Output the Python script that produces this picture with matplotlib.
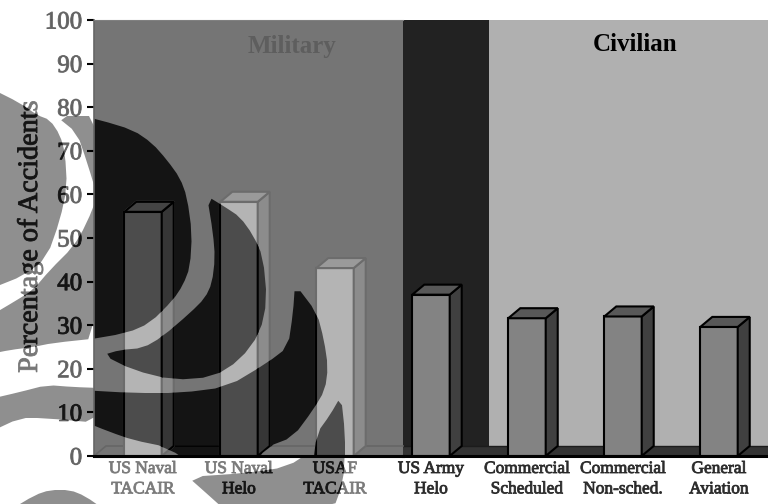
import matplotlib
matplotlib.use("Agg")
import matplotlib.pyplot as plt
from matplotlib.path import Path
from matplotlib.patches import PathPatch
from matplotlib.patheffects import AbstractPathEffect
from matplotlib.transforms import Affine2D, TransformedPath

# ---- data ----
categories = ["US Naval\nTACAIR", "US Naval\nHelo", "USAF\nTACAIR", "US Army\nHelo",
              "Commercial\nScheduled", "Commercial\nNon-sched.", "General\nAviation"]
values = [56, 58.3, 43.1, 37, 31.6, 32, 29.6]
yticks = [0, 10, 20, 30, 40, 50, 60, 70, 80, 90, 100]
tick_colors = ["#666666", "#111111", "#666666", "#111111", "#111111", "#222222",
               "#111111", "#111111", "#222222", "#666666", "#666666"]

# ---- style ----
W, H = 768, 504
plt.rcParams["font.family"] = "Liberation Serif"
BAR_W, DX, DY = 0.39, 0.125, 2.3
MIL_END, DARK_END = 2.708, 3.604
XMIN, XMAX = -0.5104, 6.5104

MIL = dict(bg="#757575", front="#b4b4b4", side="#8c8c8c", top="#9a9a9a", edge="#6c6c6c",
           floor="#757575", fline="#666666", base="#555555")
INV = dict(bg="#141414", front="#4c4c4c", side="#363636", top="#444444", edge="#000000",
           floor="#141414", fline="#000000", base="#000000")
CIV = dict(front="#838383", side="#404040", top="#585858", edge="#000000",
           floor="#333333", fline="#1c1c1c", base="#000000")
DARK_BG, LIGHT_BG = "#222222", "#b0b0b0"
GRAY = "#8f8f8f"

# swirl overlay outlines in image pixels
blob_shapes = [
    [(80, 116), (100, 120), (133, 130), (152, 143), (167, 160), (180, 178), (187, 197), (192, 233),
     (190, 267), (183, 285), (173, 300), (150, 323), (127, 333), (80, 341)],
    [(207, 196), (225, 207), (240, 217), (253, 235), (263, 257), (267, 300), (260, 333), (240, 360),
     (213, 377), (173, 380), (133, 370), (103, 355), (120, 350), (143, 348), (162, 337),
     (190, 313), (205, 298), (212, 283), (215, 258), (213, 233)],
    [(295, 284), (317, 313), (324, 340), (328, 367), (325, 390), (313, 410), (293, 437), (267, 447),
     (250, 470), (200, 470), (167, 447), (133, 440), (110, 432), (80, 420), (80, 390), (133, 393),
     (180, 393), (227, 387), (267, 363), (288, 347), (293, 313)],
    [(341, 396), (345, 433), (345, 470), (312, 470), (317, 433), (330, 415)],
]
gray_shapes = [
    [(-10, 88), (20, 103), (37, 115), (50, 120), (60, 135), (65, 153), (67, 187), (60, 220), (47, 257),
     (25, 275), (-10, 289)],
    [(56, 116), (100, 116), (100, 205), (87, 162), (77, 133)],
    [(-10, 316), (17, 300), (33, 290), (50, 270), (73, 247), (86, 225), (100, 190), (100, 338), (53, 343),
     (33, 347), (10, 350), (-10, 354)],
    [(-10, 399), (20, 392), (47, 385), (73, 387), (100, 388), (100, 423), (43, 418), (20, 418), (-10, 432)],
    [(188, 477), (247, 473), (287, 467), (313, 450), (345, 450), (343, 483), (333, 510), (225, 510),
     (205, 492)],
    [(10, 510), (35, 495), (50, 490), (70, 490), (85, 496), (105, 510)],
]


def rounded(s, n=1):
    # corner cutting keeps the hand-traced swirl outlines from looking faceted
    for _ in range(n):
        out = []
        for a, b in zip(s, s[1:] + s[:1]):
            out.append((0.75 * a[0] + 0.25 * b[0], 0.75 * a[1] + 0.25 * b[1]))
            out.append((0.25 * a[0] + 0.75 * b[0], 0.25 * a[1] + 0.75 * b[1]))
        s = out
    return s


def compound(shapes):
    verts, codes = [], []
    for s in shapes:
        s = rounded(s)
        verts += list(s) + [s[0]]
        codes += [Path.MOVETO] + [Path.LINETO] * (len(s) - 1) + [Path.CLOSEPOLY]
    return Path(verts, codes)


fig = plt.figure(figsize=(W / 100, H / 100), dpi=100, facecolor="white")
px = Affine2D().scale(1, -1).translate(0, H)
blob_path, gray_path = compound(blob_shapes), compound(gray_shapes)
fig.add_artist(PathPatch(gray_path, transform=px, facecolor=GRAY, edgecolor="none", zorder=0))

ax = fig.add_axes([94 / W, (H - 456) / H, (W - 94) / W, 436 / H], zorder=1)
ax.set_xlim(XMIN, XMAX)
ax.set_ylim(0, 100)
ax.set_facecolor("none")


class TwoTone(AbstractPathEffect):
    """Text colour flips to near black where the glyphs cross the gray swirl bands."""

    def draw_path(self, renderer, gc, tpath, affine, rgbFace=None):
        g0 = renderer.new_gc()
        g0.copy_properties(gc)
        g0.set_foreground(rgbFace)
        g0.set_linewidth(0.6)
        renderer.draw_path(g0, tpath, affine, rgbFace)
        g1 = renderer.new_gc()
        g1.copy_properties(gc)
        g1.set_clip_path(TransformedPath(gray_path, px))
        g1.set_foreground("#151515")
        g1.set_linewidth(0.6)
        renderer.draw_path(g1, tpath, affine, (0.08, 0.08, 0.08))
        g0.restore()
        g1.restore()


def draw_scene(mil, clip=None):
    arts = []
    arts.append(ax.axvspan(XMIN, MIL_END, color=mil["bg"], lw=0, zorder=1))
    arts.append(ax.fill([XMIN, MIL_END, MIL_END, XMIN], [0, 0, DY, DY], color=mil["floor"], lw=0, zorder=2)[0])
    arts += ax.plot([XMIN, XMIN + DX, MIL_END], [0, DY, DY], color=mil["fline"], lw=1.2, zorder=2)
    arts += ax.plot([XMIN, MIL_END], [0, 0], color=mil["base"], lw=2.2, zorder=5, clip_on=False)
    for c, v in enumerate(values):
        st = mil if c < 3 else CIV
        l, r = c - BAR_W / 2, c + BAR_W / 2
        kw = dict(edgecolor=st["edge"], lw=1.5, zorder=4 + c * 0.01)
        arts += list(ax.bar(c, v, BAR_W, color=st["front"], **kw))
        arts += ax.fill([r, r + DX, r + DX, r], [0, DY, v + DY, v], facecolor=st["side"], **kw)
        arts += ax.fill([l, l + DX, r + DX, r], [v, v + DY, v + DY, v], facecolor=st["top"], **kw)
    if clip is not None:
        for a in arts:
            a.set_clip_path(clip, px)
    return arts


# right-hand backgrounds and floor
ax.axvspan(MIL_END, DARK_END, color=DARK_BG, lw=0, zorder=1)
ax.axvspan(DARK_END, XMAX, color=LIGHT_BG, lw=0, zorder=1)
ax.fill([MIL_END, XMAX, XMAX, MIL_END], [0, 0, DY, DY], color=CIV["floor"], lw=0, zorder=2)
ax.plot([MIL_END, XMAX], [DY, DY], color=CIV["fline"], lw=1, zorder=2)
ax.plot([MIL_END, XMAX], [0, 0], color=CIV["base"], lw=2.2, zorder=5, clip_on=False)

draw_scene(MIL)
draw_scene(INV, blob_path)

# axes furniture
for s in ("right", "bottom"):
    ax.spines[s].set_visible(False)
ax.spines["top"].set_color("#808080")
ax.spines["top"].set_bounds(XMIN, MIL_END)
ax.spines["left"].set_color("#666666")
ax.spines["left"].set_linewidth(1.2)
ax.set_yticks(yticks)
ax.set_yticklabels([str(t) for t in yticks], fontsize=18, color="#626262")
ax.tick_params(axis="y", length=5, width=1.5, pad=3.5)
for t, c in zip(ax.yaxis.get_major_ticks(), tick_colors):
    t.tick1line.set_color(c)
ax.set_xticks(range(len(categories)))
ax.set_xticklabels(categories, fontsize=12.5, color="#7a7a7a", linespacing=1.36)
ax.tick_params(axis="x", length=0, pad=3.6)
ax.set_ylabel("Percentage of Accidents", fontsize=20.3, color="#777777")
ax.yaxis.set_label_coords((43 - 94) / (W - 94), (456 - 236) / 436)

for lab in ax.get_xticklabels()[3:]:
    lab.set_color("#2a2a2a")
for src in list(ax.get_yticklabels()) + list(ax.get_xticklabels()) + [ax.yaxis.label]:
    src.set_path_effects([TwoTone()])

ax.text((292 - 143) / 96, 93.9, "Military", fontsize=18, fontweight="bold", color="#5e5e5e",
        ha="center", va="center", zorder=6)
ax.text((635 - 143) / 96, 94.3, "Civilian", fontsize=18, fontweight="bold", color="#000000",
        ha="center", va="center", zorder=6)

fig.savefig("out.png", dpi=100)
